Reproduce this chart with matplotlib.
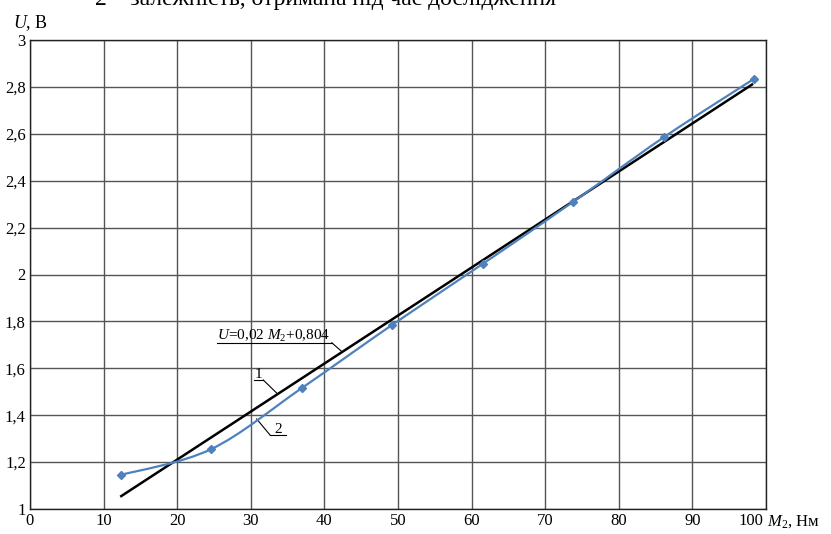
import numpy as np
import matplotlib
matplotlib.use('Agg')
import matplotlib.pyplot as plt
from matplotlib.path import Path
from matplotlib.patches import PathPatch
from matplotlib.ticker import FuncFormatter

plt.rcParams['font.family'] = ['Liberation Serif', 'DejaVu Serif']
plt.rcParams['mathtext.fontset'] = 'custom'
plt.rcParams['mathtext.rm'] = 'Liberation Serif'
plt.rcParams['mathtext.it'] = 'Liberation Serif:italic'

# Measured curve (2) and linear fit (1)
m2 = [12.3, 24.6, 36.9, 49.2, 61.5, 73.8, 86.1, 98.4]
u_meas = [1.145, 1.255, 1.515, 1.785, 2.045, 2.31, 2.585, 2.835]
fit_x = [12.4, 98.1]
fit_y = [1.055, 2.81]

x_ticks = [0, 10, 20, 30, 40, 50, 60, 70, 80, 90, 100]
y_ticks = [1, 1.2, 1.4, 1.6, 1.8, 2, 2.2, 2.4, 2.6, 2.8, 3]

blue = '#4F81BD'
fs = 12

fig = plt.figure(figsize=(8.31, 5.34), dpi=100)
ax = fig.add_axes([30 / 831, 1 - 509 / 534, 736 / 831, 469 / 534])
ax.set_xlim(0, 100)
ax.set_ylim(1, 3)
ax.set_xticks(x_ticks)
ax.set_yticks(y_ticks)
ax.grid(True, color='#555555', linewidth=1.0)
ax.set_axisbelow(True)
for s in ax.spines.values():
    s.set_color('#222222')
    s.set_linewidth(1.0)
ax.tick_params(length=0, labelsize=fs, pad=3)
ax.yaxis.set_major_formatter(FuncFormatter(lambda v, p: ('%g' % v).replace('.', ',')))
ax.xaxis.set_major_formatter(FuncFormatter(lambda v, p: '' if v == 100 else '%g' % v))

# smoothed line through measured points (Catmull-Rom style bezier)
pts = np.column_stack([m2, u_meas])
verts = [pts[0]]
codes = [Path.MOVETO]
for i in range(len(pts) - 1):
    p0 = pts[i - 1] if i > 0 else pts[i]
    p1 = pts[i]
    p2 = pts[i + 1]
    p3 = pts[i + 2] if i + 2 < len(pts) else pts[i + 1]
    c1 = p1 + (p2 - p0) / 6
    c2 = p2 - (p3 - p1) / 6
    verts += [c1, c2, p2]
    codes += [Path.CURVE4] * 3
ax.add_patch(PathPatch(Path(verts, codes), fill=False, edgecolor=blue, lw=1.6, zorder=3))
ax.plot(m2, u_meas, 'D', color=blue, markersize=4.5, zorder=4)

ax.plot(fit_x, fit_y, color='black', lw=1.8, zorder=2)

# annotations
ax.text(25.4, 1.722, r'$U$=0,02 $M_2$+0,804', fontsize=11, ha='left', va='baseline')
ax.plot([25.4, 41.0], [1.709, 1.709], color='black', lw=0.8)
ax.plot([41.0, 42.35], [1.709, 1.672], color='black', lw=0.8)

ax.text(31.05, 1.558, '1', fontsize=11, ha='center', va='baseline')
ax.plot([30.4, 31.7], [1.550, 1.550], color='black', lw=0.8)
ax.plot([31.7, 33.5], [1.550, 1.495], color='black', lw=0.8)

ax.text(33.7, 1.324, '2', fontsize=11, ha='center', va='baseline')
ax.plot([32.6, 34.8], [1.316, 1.316], color='black', lw=0.8)
ax.plot([32.6, 30.8], [1.316, 1.384], color='black', lw=0.8)

# axis labels
fig.text(13 / 831, 1 - 28 / 534, r'$U$, В', fontsize=13, ha='left', va='baseline')
ax.text(99.7, -0.009, '100', transform=ax.get_xaxis_transform(), fontsize=fs,
        ha='right', va='top')
ax.text(100.1, -0.009, r'$M_2$, Нм', transform=ax.get_xaxis_transform(), fontsize=fs,
        ha='left', va='top', clip_on=False)

# caption cut off at the top of the image
fig.text(95 / 831, 1 - 5 / 534, '2 – залежність, отримана під час дослідження',
         fontsize=17, ha='left', va='baseline')

fig.savefig('out.png', dpi=100)
